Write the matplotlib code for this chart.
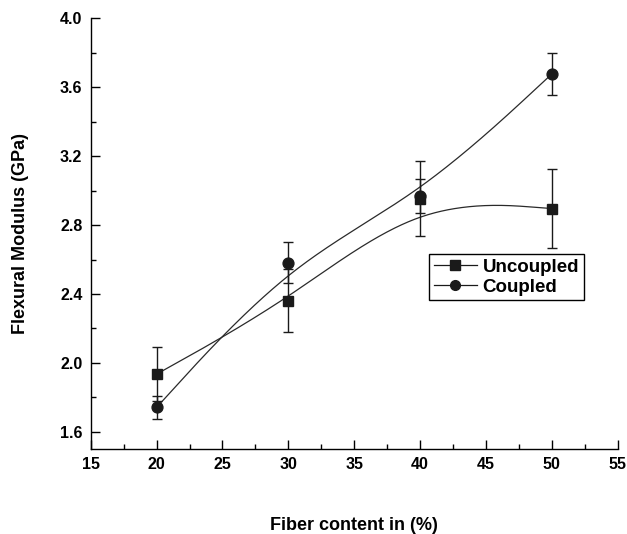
import numpy as np
import matplotlib
matplotlib.use("Agg")
import matplotlib.pyplot as plt
from matplotlib.ticker import MultipleLocator

# ---- data ----
fiber = [20, 30, 40, 50]
uncoupled = [1.935, 2.361, 2.954, 2.896]
uncoupled_err = [0.158, 0.184, 0.218, 0.231]
coupled = [1.742, 2.581, 2.968, 3.677]
coupled_err = [0.067, 0.118, 0.097, 0.124]
x_ticks = [15, 20, 25, 30, 35, 40, 45, 50, 55]
y_ticks = [1.6, 2.0, 2.4, 2.8, 3.2, 3.6, 4.0]

plt.rcParams['font.family'] = ['Liberation Sans', 'DejaVu Sans']
plt.rcParams['font.weight'] = 'bold'


def bspline3(xs, ys, n=100):
    """Uniform cubic B-spline using the data points as control points
    (end points repeated so that the curve starts/ends on them)."""
    P = np.column_stack([xs, ys]).astype(float)
    Q = np.vstack([P[0], P[0], P, P[-1], P[-1]])
    t = np.linspace(0, 1, n)[:, None]
    b0 = (1 - t) ** 3 / 6
    b1 = (3 * t ** 3 - 6 * t ** 2 + 4) / 6
    b2 = (-3 * t ** 3 + 3 * t ** 2 + 3 * t + 1) / 6
    b3 = t ** 3 / 6
    pts = [b0 * Q[i] + b1 * Q[i + 1] + b2 * Q[i + 2] + b3 * Q[i + 3]
           for i in range(len(Q) - 3)]
    pts = np.vstack(pts)
    return pts[:, 0], pts[:, 1]


fig = plt.figure(figsize=(6.27, 5.34), dpi=100)
ax = fig.add_axes([0.1447, 0.159, 0.8405, 0.8067])

col = '#1a1a1a'
for ys, es, mk in [(uncoupled, uncoupled_err, 's'), (coupled, coupled_err, 'o')]:
    sx, sy = bspline3(fiber, ys)
    ax.plot(sx, sy, color='#2a2a2a', lw=0.9, zorder=2)
    ax.errorbar(fiber, ys, yerr=es, fmt='none', ecolor=col, elinewidth=1.0,
                capsize=3.3, capthick=1.0, zorder=3)
    ax.plot(fiber, ys, linestyle='none', marker=mk, color=col,
            markersize=7.0 if mk == 's' else 7.8, zorder=4)

# legend proxies
h1, = ax.plot([], [], color=col, lw=0.9, marker='s', markersize=6.5)
h2, = ax.plot([], [], color=col, lw=0.9, marker='o', markersize=7)
leg = ax.legend([h1, h2], ['Uncoupled', 'Coupled'], loc='upper left',
                bbox_to_anchor=(0.642, 0.453), fancybox=False, framealpha=1,
                edgecolor='black', prop={'size': 13.5, 'weight': 'bold'},
                handlelength=2.3, handletextpad=0.3, borderpad=0.25,
                labelspacing=0.15, borderaxespad=0)
leg.get_frame().set_linewidth(1.0)

ax.set_xlim(15, 55)
ax.set_ylim(1.5, 4.0)
ax.set_xticks(x_ticks)
ax.set_yticks(y_ticks)
ax.set_yticklabels([f'{v:.1f}' for v in y_ticks])
ax.xaxis.set_minor_locator(MultipleLocator(2.5))
ax.yaxis.set_minor_locator(MultipleLocator(0.2))
ax.tick_params(which='major', direction='in', length=6.3, width=1.0,
               labelsize=11.5, pad=6)
ax.tick_params(which='minor', direction='in', length=3.3, width=1.0)
for lbl in ax.get_xticklabels() + ax.get_yticklabels():
    lbl.set_fontweight('bold')

for s in ['top', 'right']:
    ax.spines[s].set_visible(False)
for s in ['left', 'bottom']:
    ax.spines[s].set_linewidth(1.0)

ax.set_xlabel('Fiber content in (%)', fontsize=13, fontweight='bold', labelpad=32)
ax.set_ylabel('Flexural Modulus (GPa)', fontsize=13, fontweight='bold', labelpad=22)

fig.savefig('out.png', dpi=100)
